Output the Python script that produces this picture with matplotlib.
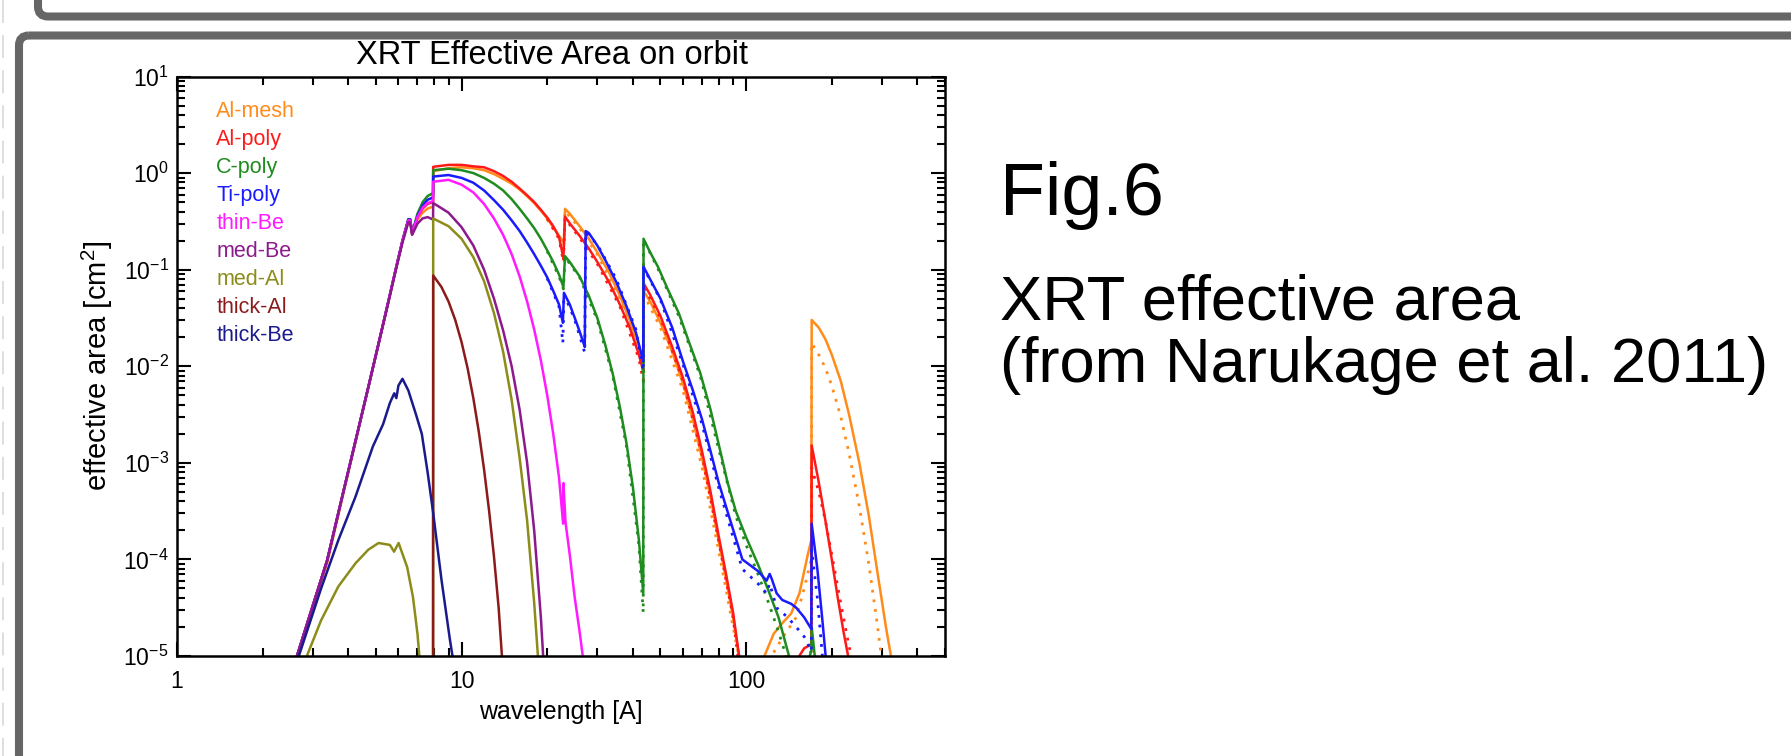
import numpy as np
import matplotlib
matplotlib.use("Agg")
import matplotlib.pyplot as plt
from matplotlib.patches import FancyBboxPatch
from matplotlib.ticker import LogLocator, NullFormatter

plt.rcParams['font.family'] = ['Liberation Sans', 'DejaVu Sans']
plt.rcParams['mathtext.fontset'] = 'custom'
plt.rcParams['mathtext.rm'] = 'Liberation Sans'
plt.rcParams['mathtext.it'] = 'Liberation Sans:italic'
plt.rcParams['mathtext.bf'] = 'Liberation Sans:bold'
plt.rcParams['axes.unicode_minus'] = False

nan = float('nan')

# ---------------------------------------------------------------------------
# Data: wavelength [A] and log10(effective area [cm2])
# ---------------------------------------------------------------------------
filter_names = ["Al-mesh", "Al-poly", "C-poly", "Ti-poly", "thin-Be",
                "med-Be", "med-Al", "thick-Al", "thick-Be"]
filter_colors = ["#ff8c1a", "#ff1a1a", "#1f8c1f", "#1a1aff", "#ff1aff",
                 "#8c1a8c", "#8c8c1a", "#8c1a1a", "#1a1a8c"]

almesh_wl = [2.66, 3.0, 3.37, 3.8, 4.33, 4.7, 5.05, 5.5, 5.9, 6.2, 6.5, 6.6, 6.7,
             6.8, 7.0, 7.3, 7.6, 7.94, 7.95, 9, 10, 11, 12, 13, 14, 15, 16, 17, 18,
             19, 20, 21, 22, 22.9, 23.1, 24, 26, 28, 30, 33, 36, 39, 42, 43.5, 43.6,
             46, 50, 55, 60, 65, 70, 75, 80, 85, 90, 95, nan,
             116, 125, 134, 144, 154, 165, 169.5, 170, 180, 190, 200, 215, 230,
             250, 270, 290, 310, 325]
almesh_lg = [-5.0, -4.52, -4.04, -3.38, -2.67, -2.22, -1.83, -1.36, -0.97, -0.7, -0.5, -0.5, -0.63,
             -0.585, -0.481, -0.409, -0.367, -0.347, 0.02, 0.05, 0.06, 0.05, 0.03, -0.01, -0.06, -0.11, -0.17, -0.24, -0.31,
             -0.39, -0.47, -0.56, -0.65, -0.72, -0.37, -0.42, -0.55, -0.68, -0.82, -1.03, -1.27, -1.52, -1.8, -1.95, -1.22,
             -1.33, -1.55, -1.85, -2.18, -2.55, -2.95, -3.35, -3.8, -4.2, -4.6, -5.05, nan,
             -5.0, -4.77, -4.66, -4.56, -4.35, -3.94, -3.8, -1.52, -1.6, -1.72, -1.88, -2.15, -2.5,
             -3.0, -3.55, -4.15, -4.7, -5.05]

alpoly_wl = [2.64, 3.0, 3.37, 3.8, 4.33, 4.7, 5.05, 5.5, 5.9, 6.2, 6.5, 6.6, 6.7,
             6.8, 7.0, 7.3, 7.6, 7.94, 7.95, 9, 10, 11, 12, 13, 14, 15, 16, 17, 18,
             19, 20, 21, 22, 22.8, 23.1, 24, 26, 28, 30, 33, 36, 39, 42, 43.5, 43.6,
             46, 50, 55, 60, 65, 70, 75, 80, 85, 90, 95, nan,
             150, 160, 169.5, 170, 180, 190, 200, 210, 220, 230]
alpoly_lg = [-5.0, -4.48, -4.01, -3.36, -2.66, -2.22, -1.83, -1.36, -0.97, -0.7, -0.48, -0.48, -0.62,
             -0.569, -0.456, -0.367, -0.319, -0.301, 0.065, 0.085, 0.085, 0.07, 0.06, 0.02, -0.03, -0.09, -0.16, -0.23, -0.3,
             -0.38, -0.46, -0.55, -0.66, -0.88, -0.45, -0.52, -0.65, -0.78, -0.92, -1.13, -1.36, -1.6, -1.88, -2.05, -1.14,
             -1.26, -1.48, -1.8, -2.12, -2.48, -2.88, -3.3, -3.75, -4.15, -4.55, -5.05, nan,
             -5.05, -4.92, -4.88, -2.82, -3.2, -3.6, -4.0, -4.4, -4.75, -5.05]

cpoly_wl = [2.64, 3.0, 3.37, 3.8, 4.33, 4.7, 5.05, 5.5, 5.9, 6.2, 6.5, 6.6, 6.7,
            6.8, 7.0, 7.3, 7.6, 7.94, 7.95, 9, 10, 11, 12, 13, 14, 15, 16, 17, 18,
            19, 20, 21, 22, 22.8, 23.1, 24, 26, 28, 30, 32, 34, 36, 38, 40, 42, 43.5, 43.6,
            46, 49, 53, 58, 63, 69, 75, 80, 86, 92, 100, 110, 119, 130, 143, nan,
            165, 169.5, 170, 175]
cpoly_lg = [-5.0, -4.48, -4.01, -3.36, -2.66, -2.22, -1.83, -1.36, -0.97, -0.7, -0.48, -0.48, -0.62,
            -0.553, -0.42, -0.301, -0.237, -0.208, 0.03, 0.045, 0.03, 0.0, -0.05, -0.11, -0.18, -0.27, -0.37, -0.47, -0.57,
            -0.68, -0.8, -0.92, -1.05, -1.18, -0.86, -0.92, -1.07, -1.27, -1.5, -1.78, -2.08, -2.42, -2.8, -3.25, -3.8, -4.35, -0.68,
            -0.82, -0.97, -1.2, -1.45, -1.75, -2.07, -2.45, -2.8, -3.2, -3.5, -3.77, -4.05, -4.3, -4.6, -5.05, nan,
            -5.05, -4.95, -4.7, -5.05]

tipoly_wl = [2.64, 3.0, 3.37, 3.8, 4.33, 4.7, 5.05, 5.5, 5.9, 6.2, 6.5, 6.6, 6.7,
             6.8, 7.0, 7.3, 7.6, 7.94, 7.95, 9, 10, 11, 12, 13, 14, 15, 16, 17, 18,
             19, 20, 21, 22, 22.7, 22.9, 24, 25, 26, 27.1, 27.3, 28, 30, 32, 35, 38, 41, 43.5, 43.6,
             46, 50, 55, 60, 65, 70, 75, 80, 87, 97, 110, 118, 121, 123, 128, 134, 144, 150, 160,
             169.5, 170, 178, 185, 191]
tipoly_lg = [-5.0, -4.48, -4.01, -3.36, -2.66, -2.22, -1.83, -1.36, -0.97, -0.7, -0.48, -0.48, -0.62,
             -0.569, -0.444, -0.337, -0.276, -0.252, -0.036, -0.02, -0.05, -0.1, -0.18, -0.28, -0.38, -0.49, -0.6, -0.72, -0.84,
             -0.96, -1.08, -1.22, -1.36, -1.55, -1.24, -1.36, -1.5, -1.64, -1.8, -0.6, -0.62, -0.75, -0.9, -1.13, -1.38, -1.65, -1.95, -0.97,
             -1.1, -1.3, -1.6, -1.95, -2.25, -2.55, -2.88, -3.2, -3.55, -4.0, -4.12, -4.22, -4.15, -4.2, -4.35, -4.42, -4.46, -4.5, -4.6,
             -4.72, -3.63, -4.1, -4.6, -5.05]

thinbe_wl = [2.64, 3.0, 3.37, 3.8, 4.33, 4.7, 5.05, 5.5, 5.9, 6.2, 6.5, 6.6, 6.7,
             6.8, 7.0, 7.3, 7.6, 7.94, 7.95, 9, 10, 11, 12, 13, 14, 15, 16, 17, 18,
             19, 20, 21, 22, 22.75, 22.8, 23.2, 24, 25, 26, 26.8]
thinbe_lg = [-5.0, -4.48, -4.01, -3.36, -2.66, -2.22, -1.83, -1.36, -0.97, -0.7, -0.49, -0.49, -0.62,
             -0.569, -0.456, -0.357, -0.31, -0.292, -0.09, -0.07, -0.12, -0.2, -0.32, -0.47, -0.64, -0.84, -1.07, -1.33, -1.62,
             -1.94, -2.3, -2.7, -3.15, -3.63, -3.21, -3.62, -3.95, -4.4, -4.75, -5.05]

medbe_wl = [2.64, 3.0, 3.37, 3.8, 4.33, 4.7, 5.05, 5.5, 5.9, 6.2, 6.5, 6.6, 6.7,
            6.8, 7.0, 7.3, 7.6, 7.94, 7.95, 9, 10, 11, 12, 13, 14, 15, 16, 17, 18, 19, 19.4]
medbe_lg = [-5.0, -4.48, -4.01, -3.36, -2.66, -2.22, -1.83, -1.37, -0.98, -0.72, -0.51, -0.51, -0.64,
            -0.602, -0.523, -0.469, -0.456, -0.481, -0.31, -0.41, -0.56, -0.75, -1.0, -1.3, -1.63, -2.0, -2.45, -3.0, -3.7, -4.6, -5.05]

medal_wl = [2.86, 3.21, 3.69, 4.24, 4.7, 5.11, 5.6, 5.79, 6.01, 6.44, 6.75, 7.0, 7.13, nan,
            7.94, 7.95, 9, 10, 11, 12, 13, 14, 15, 16, 17, 18, 18.6]
medal_lg = [-5.0, -4.63, -4.28, -4.04, -3.9, -3.83, -3.85, -3.92, -3.83, -4.08, -4.39, -4.77, -5.05, nan,
            -6.0, -0.47, -0.55, -0.68, -0.87, -1.12, -1.45, -1.85, -2.35, -2.95, -3.6, -4.45, -5.05]

thickal_wl = [7.94, 7.95, 8.5, 9.0, 9.5, 10.0, 10.5, 11.0, 11.5, 12.0, 12.5, 13.0, 13.5, 13.9]
thickal_lg = [-6.0, -1.06, -1.18, -1.33, -1.52, -1.75, -2.02, -2.33, -2.68, -3.07, -3.5, -3.97, -4.5, -5.05]

thickbe_wl = [2.68, 3.21, 3.69, 4.24, 4.88, 5.3, 5.6, 5.8, 5.9, 6.0, 6.2, 6.5, 6.9, 7.25, 7.6, 7.95, 8.5, 9.1, 9.35]
thickbe_lg = [-5.0, -4.3, -3.8, -3.35, -2.83, -2.6, -2.38, -2.28, -2.33, -2.2, -2.13, -2.25, -2.49, -2.7, -3.1, -3.52, -4.21, -4.83, -5.05]

# dotted companions
almesh_dot_wl = [20, 22, 22.9, 23.1, 26, 30, 36, 42, 43.5, 43.6, 50, 60, 70, 80, 90, 95, nan,
                 120, 135, 150, 160, 169.5, 170, 180, 190, 200, 215, 230, 250, 270, 290, 300]
almesh_dot_lg = [-0.48, -0.66, -0.74, -0.39, -0.57, -0.84, -1.3, -1.85, -2.05, -1.25, -1.6, -2.25, -3.05, -3.9, -4.7, -5.05, nan,
                 -5.05, -4.8, -4.6, -4.3, -4.0, -1.76, -1.88, -2.02, -2.2, -2.52, -2.9, -3.45, -4.05, -4.7, -5.05]
alpoly_dot_wl = [20, 22, 22.8, 23.1, 26, 30, 36, 42, 43.5, 43.6, 50, 60, 70, 80, 90, 94, nan,
                 160, 169.5, 170, 180, 190, 200, 215, 230, 237]
alpoly_dot_lg = [-0.47, -0.68, -0.92, -0.47, -0.67, -0.94, -1.38, -1.92, -2.15, -1.17, -1.5, -2.15, -2.92, -3.8, -4.6, -5.05, nan,
                 -5.05, -4.95, -3.05, -3.3, -3.6, -3.95, -4.45, -4.9, -5.05]
cpoly_dot_wl = [20, 22, 22.8, 23.1, 26, 30, 34, 38, 42, 43.5, 43.6, 49, 58, 69, 80, 92, 100, 110, 119, 130, 140]
cpoly_dot_lg = [-0.81, -1.07, -1.2, -0.87, -1.08, -1.52, -2.1, -2.83, -3.85, -4.55, -0.69, -0.99, -1.48, -2.1, -2.85, -3.55,
                -3.85, -4.15, -4.42, -4.75, -5.05]
tipoly_dot_wl = [20, 22, 22.7, 22.9, 25, 27.1, 27.3, 30, 35, 41, 43.5, 43.6, 50, 60, 70, 80, 97, 110, 118, 121, 128, 140,
                 150, 160, 169.5, 170, 178, 186]
tipoly_dot_lg = [-1.09, -1.38, -1.76, -1.25, -1.52, -1.86, -0.61, -0.74, -1.1, -1.62, -2.05, -0.98, -1.31, -1.98, -2.6, -3.25,
                 -4.1, -4.25, -4.35, -4.25, -4.5, -4.6, -4.7, -4.8, -4.95, -3.9, -4.4, -5.05]

solid_series = [(almesh_wl, almesh_lg), (alpoly_wl, alpoly_lg), (cpoly_wl, cpoly_lg),
                (tipoly_wl, tipoly_lg), (thinbe_wl, thinbe_lg), (medbe_wl, medbe_lg),
                (medal_wl, medal_lg), (thickal_wl, thickal_lg), (thickbe_wl, thickbe_lg)]
dotted_series = [(almesh_dot_wl, almesh_dot_lg), (alpoly_dot_wl, alpoly_dot_lg),
                 (cpoly_dot_wl, cpoly_dot_lg), (tipoly_dot_wl, tipoly_dot_lg)]

# ---------------------------------------------------------------------------
# Figure
# ---------------------------------------------------------------------------
W, H = 1791, 756
fig = plt.figure(figsize=(W / 100, H / 100), dpi=100)

# slide frame drawn in pixel coordinates
bg = fig.add_axes([0, 0, 1, 1])
bg.set_xlim(0, W)
bg.set_ylim(H, 0)
bg.axis("off")
frame = "#666666"
bg.add_patch(FancyBboxPatch((38, -80), 1900, 80 + 16.5, boxstyle="round,pad=0,rounding_size=10",
                            fill=False, ec=frame, lw=5.8))
bg.add_patch(FancyBboxPatch((19, 35.5), 1900, 900, boxstyle="round,pad=0,rounding_size=10",
                            fill=False, ec=frame, lw=5.8))
bg.plot([2.5, 2.5], [0, H], color="#d4d4d4", lw=1.1, dashes=(15, 8))

ax = fig.add_axes([177 / W, 1 - 656 / H, 768 / W, 579.5 / H])
for i, (wl, lg) in enumerate(solid_series):
    ax.plot(wl, np.power(10.0, lg), color=filter_colors[i], lw=1.8)
    if i < len(dotted_series):
        dwl, dlg = dotted_series[i]
        ax.plot(dwl, np.power(10.0, dlg), color=filter_colors[i], lw=2.0, ls=(0, (1, 2.5)))

ax.set_xscale("log")
ax.set_yscale("log")
ax.set_xlim(1, 500)
ax.set_ylim(1e-5, 10)
ax.set_xticks([1, 10, 100])
ax.set_xticklabels(["1", "10", "100"])
ax.xaxis.set_minor_locator(LogLocator(base=10, subs=np.arange(2, 10), numticks=20))
ax.xaxis.set_minor_formatter(NullFormatter())
ax.yaxis.set_major_locator(LogLocator(base=10, numticks=20))
ax.yaxis.set_minor_locator(LogLocator(base=10, subs=np.arange(2, 10), numticks=20))
ax.yaxis.set_minor_formatter(NullFormatter())
ax.tick_params(which="both", direction="in", top=True, right=True, width=1.5, labelsize=16.5)
ax.tick_params(which="major", length=10)
ax.tick_params(which="minor", length=5.5)
ax.tick_params(axis="x", pad=10)
ax.tick_params(axis="y", pad=6)
for s in ax.spines.values():
    s.set_linewidth(1.8)

ax.set_title("XRT Effective Area on orbit", fontsize=23.5, pad=9, x=0.488)
ax.set_xlabel("wavelength [A]", fontsize=18, labelpad=5)
ax.set_ylabel("effective area [cm$^2$]", fontsize=21, labelpad=6)

for i, name in enumerate(filter_names):
    ax.text(0.051, 0.939 - i * 0.0483, name, color=filter_colors[i], fontsize=15.5,
            transform=ax.transAxes, va="center", ha="left")

fig.text(1000 / W, 1 - 215 / H, "Fig.6", fontsize=53, va="baseline", ha="left")
fig.text(1000 / W, 1 - 320 / H, "XRT effective area", fontsize=45.5, va="baseline", ha="left")
fig.text(1000 / W, 1 - 382 / H, "(from Narukage et al. 2011)", fontsize=45.5, va="baseline", ha="left")

fig.savefig("out.png", dpi=100)
